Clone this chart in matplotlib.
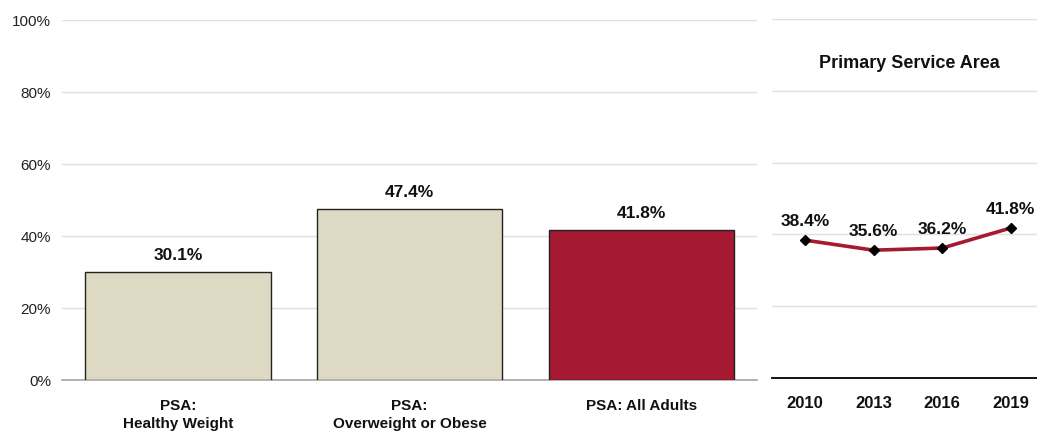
import matplotlib
matplotlib.use("Agg")
import matplotlib.pyplot as plt

plt.rcParams['font.family'] = ['Liberation Sans Narrow', 'Liberation Sans', 'DejaVu Sans']

# Bar panel data
categories = ["PSA:\nHealthy Weight", "PSA:\nOverweight or Obese", "PSA: All Adults"]
bar_values = [30.1, 47.4, 41.8]
bar_colors = ["#DDD9C3", "#DDD9C3", "#A51931"]

# Trend panel data
years = ["2010", "2013", "2016", "2019"]
trend_values = [38.4, 35.6, 36.2, 41.8]

y_ticks = [0, 20, 40, 60, 80, 100]
y_tick_labels = ["0%", "20%", "40%", "60%", "80%", "100%"]

W, H = 1037, 433
fig = plt.figure(figsize=(W / 100, H / 100), dpi=100)

# Left panel: bars
ax1 = fig.add_axes([62 / W, (H - 380) / H, (757 - 62) / W, 360 / H])
x = list(range(len(categories)))
ax1.bar(x, bar_values, width=0.8, color=bar_colors, edgecolor="#222222", linewidth=1.0, zorder=3)
for xi, v in zip(x, bar_values):
    ax1.text(xi, v + 2.5, f"{v:.1f}%", ha="center", va="bottom", fontsize=12.5, fontweight="bold", color="#111111")
ax1.set_xlim(-0.5, 2.5)
ax1.set_ylim(0, 100)
ax1.set_yticks(y_ticks)
ax1.set_yticklabels(y_tick_labels, fontsize=11, color="#222222")
ax1.set_xticks(x)
ax1.set_xticklabels(categories, fontsize=11, fontweight="bold", color="#111111", linespacing=1.3)
ax1.tick_params(axis="both", length=0, pad=8)
ax1.tick_params(axis="x", pad=14)
ax1.grid(axis="y", color="#E0E0E0", linewidth=1.0, zorder=0)
for side in ["top", "right", "left"]:
    ax1.spines[side].set_visible(False)
ax1.spines["bottom"].set_color("#A6A6A6")
ax1.spines["bottom"].set_linewidth(1.2)

# Right panel: trend line
ax2 = fig.add_axes([772 / W, (H - 378) / H, (1037 - 772) / W, 359 / H])
xt = list(range(len(years)))
ax2.plot(xt, trend_values, color="#A51931", linewidth=2.6, zorder=3)
ax2.plot(xt, trend_values, linestyle="none", marker="D", markersize=5.5, color="#000000", zorder=4)
for xi, v in zip(xt, trend_values):
    ax2.text(xi, v + 3.0, f"{v:.1f}%", ha="center", va="bottom", fontsize=12.5, fontweight="bold", color="#111111")
ax2.set_xlim(-0.48, 3.38)
ax2.set_ylim(0, 100)
ax2.set_yticks(y_ticks)
ax2.set_yticklabels([])
ax2.set_xticks(xt)
ax2.set_xticklabels(years, fontsize=12, fontweight="bold", color="#111111")
ax2.tick_params(axis="both", length=0)
ax2.tick_params(axis="x", pad=13)
ax2.grid(axis="y", color="#E0E0E0", linewidth=1.0, zorder=0)
for side in ["top", "right", "left"]:
    ax2.spines[side].set_visible(False)
ax2.spines["bottom"].set_color("#000000")
ax2.spines["bottom"].set_linewidth(1.3)
ax2.text(0.52, 0.875, "Primary Service Area", transform=ax2.transAxes, ha="center", va="center",
         fontsize=13, fontweight="bold", color="#111111")

fig.savefig("out.png", dpi=100)
